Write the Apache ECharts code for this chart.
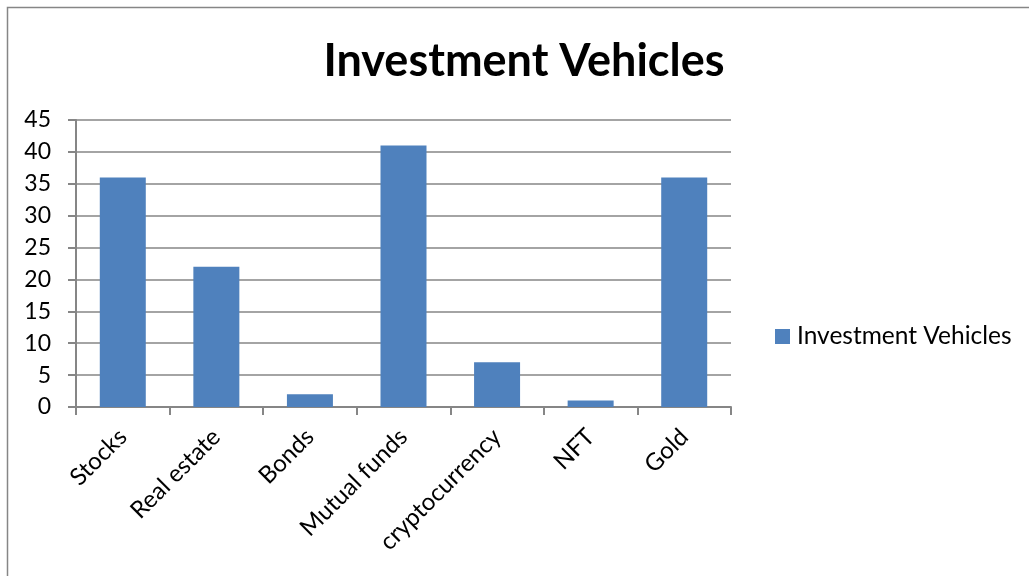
<!DOCTYPE html>
<html><head><meta charset="utf-8">
<script src="https://cdn.jsdelivr.net/npm/echarts@6/dist/echarts.min.js"></script>
<style>html,body{margin:0;padding:0;background:#fff}#c{width:1029px;height:576px}</style>
</head><body><div id="c"></div>
<script>
const titleText = "Investment Vehicles";
const seriesName = "Investment Vehicles";
const categories = ["Stocks", "Real estate", "Bonds", "Mutual funds", "cryptocurrency", "NFT", "Gold"];
const values = [36, 22, 2, 41, 7, 1, 36];
const yMin = 0, yMax = 45, yStep = 5;

const FONT = "Lato, 'Open Sans', sans-serif";
const chart = echarts.init(document.getElementById('c'), null, {renderer: 'canvas'});
chart.setOption({
  backgroundColor: '#fff',
  animation: false,
  graphic: [{
    type: 'rect', shape: {x: 7.5, y: 7.5, width: 1040, height: 600},
    style: {fill: 'none', stroke: '#868686', lineWidth: 1.5}, silent: true
  }],
  title: {
    text: titleText, left: 519, top: 34, textAlign: 'center',
    textStyle: {fontFamily: FONT, fontWeight: 'bold', fontSize: 45, color: '#000'}
  },
  legend: {
    data: [seriesName], left: 770, top: 319, orient: 'vertical',
    itemWidth: 15, itemHeight: 15, itemGap: 10, icon: 'rect',
    textStyle: {fontFamily: FONT, fontSize: 24.5, color: '#000', padding: [0,0,0,2]}
  },
  grid: {left: 76, right: 298, top: 120, bottom: 169, containLabel: false},
  xAxis: {
    type: 'category', data: categories, boundaryGap: true,
    axisLine: {lineStyle: {color: '#868686', width: 2}},
    axisTick: {show: true, length: 8, alignWithLabel: false, lineStyle: {color: '#868686', width: 2}},
    axisLabel: {rotate: 45, margin: 26, fontFamily: FONT, fontSize: 24, color: '#000', interval: 0}
  },
  yAxis: {
    type: 'value', min: yMin, max: yMax, interval: yStep,
    axisLine: {show: true, lineStyle: {color: '#868686', width: 2}},
    axisTick: {show: true, length: 8, lineStyle: {color: '#868686', width: 2}},
    splitLine: {show: true, lineStyle: {color: '#868686', width: 1.5}},
    axisLabel: {margin: 25, fontFamily: FONT, fontSize: 23, color: '#000'}
  },
  series: [{
    name: seriesName, type: 'bar', data: values, barWidth: 46,
    itemStyle: {color: '#4F81BD'}
  }]
});
</script></body></html>
